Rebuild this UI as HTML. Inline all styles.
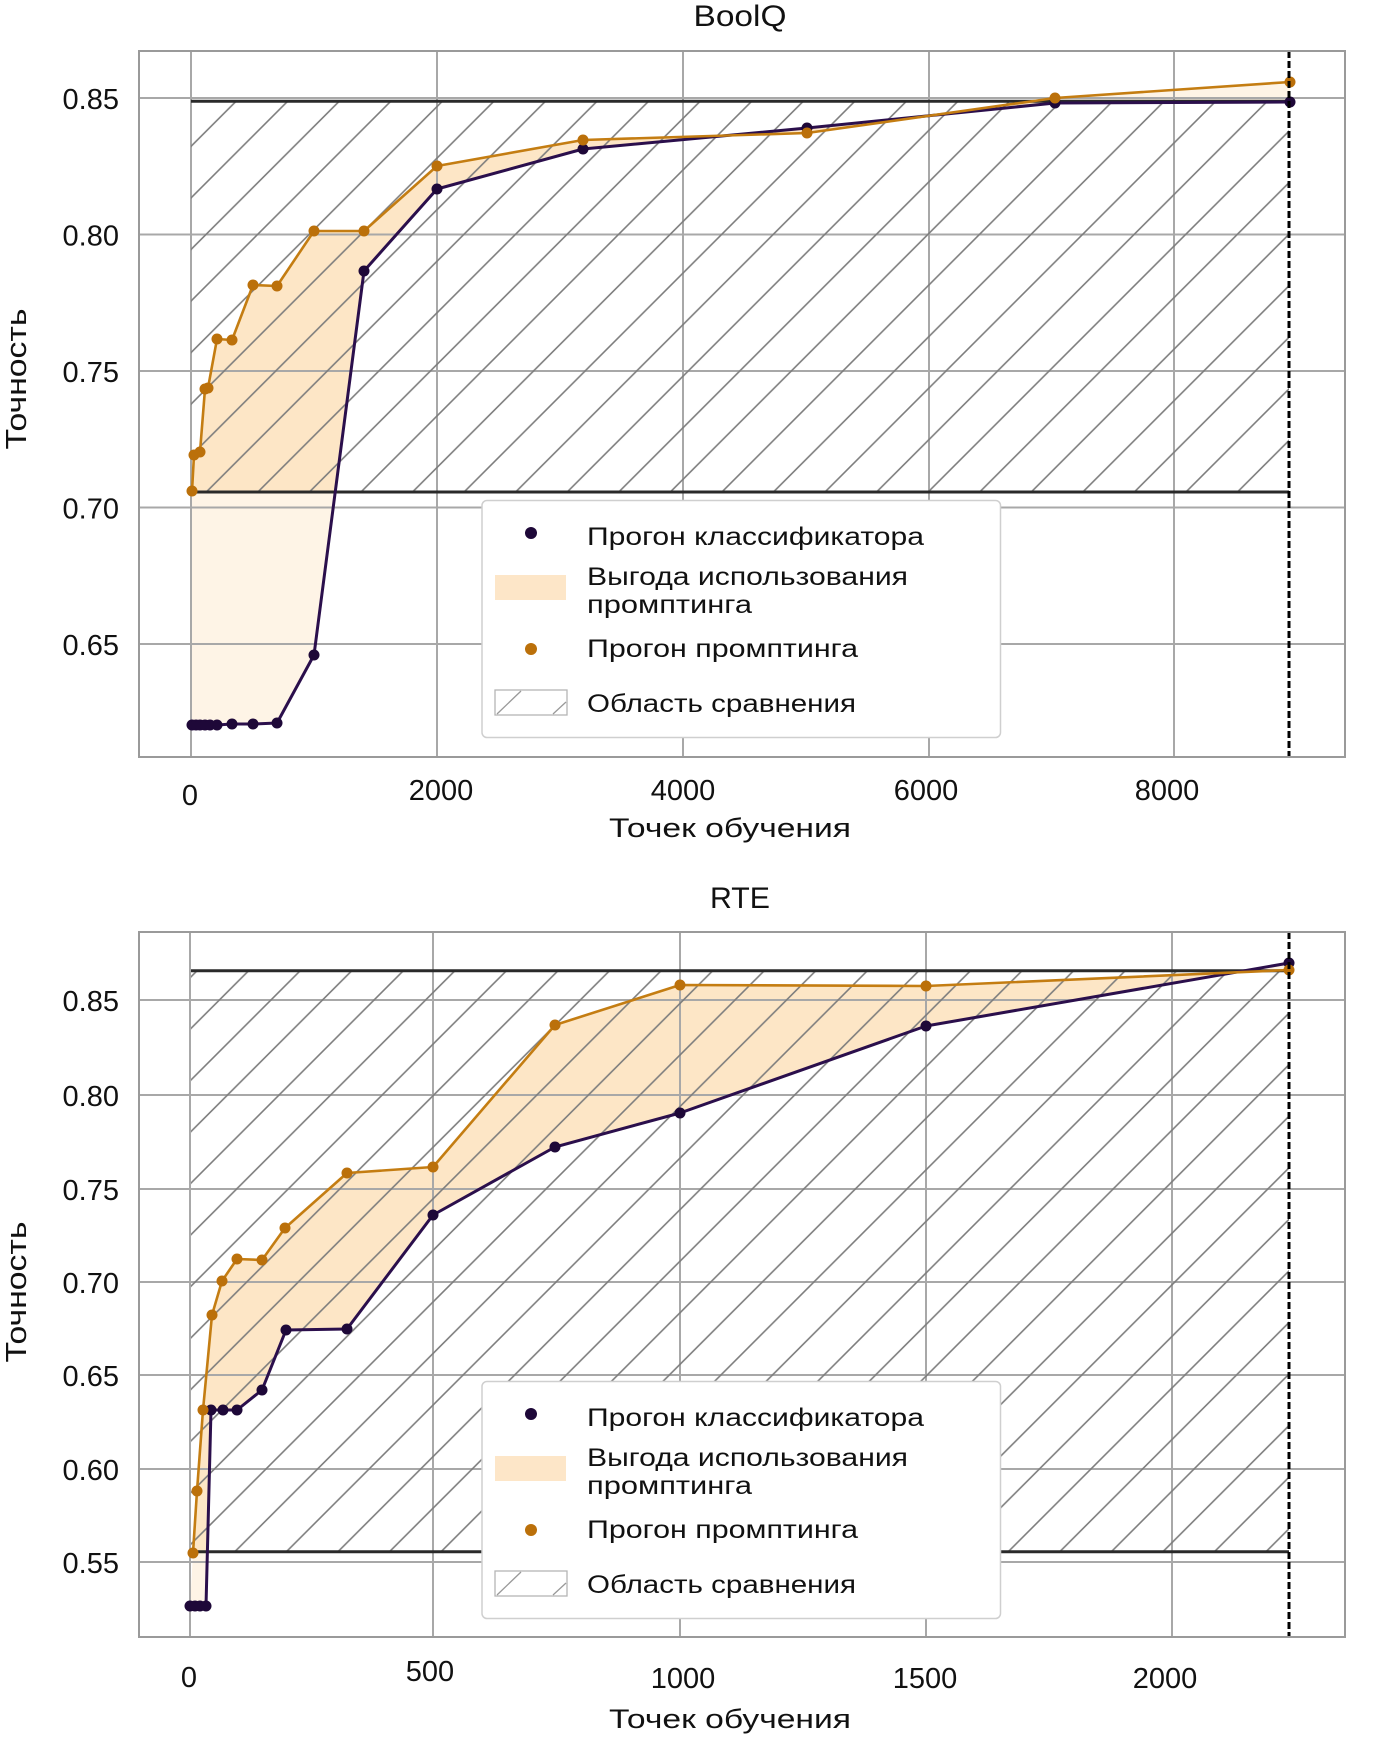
<!DOCTYPE html>
<html><head><meta charset="utf-8"><style>
html,body{margin:0;padding:0;background:#fff;}
svg{display:block;}
text{font-family:"Liberation Sans","DejaVu Sans",sans-serif;fill:#111;}
</style></head><body>
<svg width="1373" height="1741" viewBox="0 0 1373 1741" xmlns="http://www.w3.org/2000/svg">
<defs>
<pattern id="hTop" patternUnits="userSpaceOnUse" width="51.56" height="51.56" patternTransform="translate(28,0)">
<path d="M-3,3 L3,-3 M-3,54.56 L54.56,-3 M48.56,54.56 L54.56,48.56" stroke="#7d7d7d" stroke-width="1.6" fill="none"/>
</pattern>
<pattern id="hBot" patternUnits="userSpaceOnUse" width="51.56" height="51.56" patternTransform="translate(33.5,0)">
<path d="M-3,3 L3,-3 M-3,54.56 L54.56,-3 M48.56,54.56 L54.56,48.56" stroke="#7d7d7d" stroke-width="1.6" fill="none"/>
</pattern>
<clipPath id="cTop"><rect x="191" y="101.3" width="1098" height="390.7"/></clipPath>
<clipPath id="cBot"><rect x="191" y="970.7" width="1098" height="581"/></clipPath>
</defs>
<rect width="1373" height="1741" fill="#fff"/>

<!-- ============ TOP CHART (BoolQ) ============ -->
<text x="740" y="26" font-size="30" text-anchor="middle" textLength="93" lengthAdjust="spacingAndGlyphs">BoolQ</text>

<polygon fill="#fef4e6" points="192,491 194,455 200,452 205,389 208,388 217,339 232,340 253,285 277,286 314,231 364,231 437,166 583,140 807,133 1055,98 1290,82 1290,102 1055,103 807,128 583,149 437,189 364,271 314,655 277,723 253,724 232,724 217,725 210,725 205,725 200,725 196,725 192,725"/>
<polygon clip-path="url(#cTop)" fill="#fde6c6" points="192,491 194,455 200,452 205,389 208,388 217,339 232,340 253,285 277,286 314,231 364,231 437,166 583,140 807,133 1055,98 1290,82 1290,102 1055,103 807,128 583,149 437,189 364,271 314,655 277,723 253,724 232,724 217,725 210,725 205,725 200,725 196,725 192,725"/>

<g stroke="#a8a8a8" stroke-width="2">
<line x1="139" y1="98" x2="1345" y2="98"/>
<line x1="139" y1="234.5" x2="1345" y2="234.5"/>
<line x1="139" y1="371" x2="1345" y2="371"/>
<line x1="139" y1="507.5" x2="1345" y2="507.5"/>
<line x1="139" y1="644" x2="1345" y2="644"/>
<line x1="191" y1="51" x2="191" y2="757"/>
<line x1="437" y1="51" x2="437" y2="757"/>
<line x1="683" y1="51" x2="683" y2="757"/>
<line x1="929" y1="51" x2="929" y2="757"/>
<line x1="1174" y1="51" x2="1174" y2="757"/>
</g>

<rect x="191" y="101.3" width="1098" height="390.7" fill="url(#hTop)"/>
<line x1="191" y1="101.3" x2="1289" y2="101.3" stroke="#2a2a2a" stroke-width="3"/>
<line x1="191" y1="492" x2="1289" y2="492" stroke="#2a2a2a" stroke-width="3"/>

<polyline fill="none" stroke="#2b0f4c" stroke-width="3" stroke-linejoin="round" points="192,725 196,725 200,725 205,725 210,725 217,725 232,724 253,724 277,723 314,655 364,271 437,189 583,149 807,128 1055,103 1290,102"/>
<g fill="#1e0838">
<circle cx="192" cy="725" r="5.5"/><circle cx="196" cy="725" r="5.5"/><circle cx="200" cy="725" r="5.5"/><circle cx="205" cy="725" r="5.5"/><circle cx="210" cy="725" r="5.5"/><circle cx="217" cy="725" r="5.5"/><circle cx="232" cy="724" r="5.5"/><circle cx="253" cy="724" r="5.5"/><circle cx="277" cy="723" r="5.5"/><circle cx="314" cy="655" r="5.5"/><circle cx="364" cy="271" r="5.5"/><circle cx="437" cy="189" r="5.5"/><circle cx="583" cy="149" r="5.5"/><circle cx="807" cy="128" r="5.5"/><circle cx="1055" cy="103" r="5.5"/><circle cx="1290" cy="102" r="5.5"/>
</g>
<polyline fill="none" stroke="#c47d12" stroke-width="2.6" stroke-linejoin="round" points="192,491 194,455 200,452 205,389 208,388 217,339 232,340 253,285 277,286 314,231 364,231 437,166 583,140 807,133 1055,98 1290,82"/>
<g fill="#bb700a">
<circle cx="192" cy="491" r="5.5"/><circle cx="194" cy="455" r="5.5"/><circle cx="200" cy="452" r="5.5"/><circle cx="205" cy="389" r="5.5"/><circle cx="208" cy="388" r="5.5"/><circle cx="217" cy="339" r="5.5"/><circle cx="232" cy="340" r="5.5"/><circle cx="253" cy="285" r="5.5"/><circle cx="277" cy="286" r="5.5"/><circle cx="314" cy="231" r="5.5"/><circle cx="364" cy="231" r="5.5"/><circle cx="437" cy="166" r="5.5"/><circle cx="583" cy="140" r="5.5"/><circle cx="807" cy="133" r="5.5"/><circle cx="1055" cy="98" r="5.5"/><circle cx="1290" cy="82" r="5.5"/>
</g>

<line x1="1289" y1="51" x2="1289" y2="757" stroke="#000" stroke-width="3" stroke-dasharray="7 3"/>
<rect x="139" y="51" width="1206" height="706" fill="none" stroke="#9a9a9a" stroke-width="2"/>

<g font-size="29" text-anchor="end">
<text x="119" y="109">0.85</text>
<text x="119" y="245.5">0.80</text>
<text x="119" y="382">0.75</text>
<text x="119" y="518.5">0.70</text>
<text x="119" y="655">0.65</text>
</g>
<g font-size="29" text-anchor="middle">
<text x="190" y="805">0</text>
<text x="441" y="800">2000</text>
<text x="683" y="800">4000</text>
<text x="926" y="800">6000</text>
<text x="1167" y="800">8000</text>
</g>
<text x="730" y="837" font-size="27" text-anchor="middle" textLength="242" lengthAdjust="spacingAndGlyphs">Точек обучения</text>
<text transform="translate(26,379) rotate(-90)" font-size="29" text-anchor="middle" textLength="141" lengthAdjust="spacingAndGlyphs">Точность</text>

<rect x="482" y="500.5" width="518.5" height="237" rx="5" fill="#fff" stroke="#cfcfcf" stroke-width="1.5"/>
<circle cx="531" cy="533" r="6" fill="#1e0838"/>
<text x="587" y="545" font-size="25" textLength="337" lengthAdjust="spacingAndGlyphs">Прогон классификатора</text>
<rect x="495" y="575" width="71" height="25" fill="#fde6c8"/>
<text x="587" y="585" font-size="25" textLength="321" lengthAdjust="spacingAndGlyphs">Выгода использования</text>
<text x="587" y="613" font-size="25" textLength="165" lengthAdjust="spacingAndGlyphs">промптинга</text>
<circle cx="531" cy="649" r="6" fill="#bb700a"/>
<text x="587" y="657" font-size="25" textLength="271" lengthAdjust="spacingAndGlyphs">Прогон промптинга</text>
<rect x="495" y="690" width="72" height="25" fill="#fff" stroke="#b5b5b5" stroke-width="1.3"/>
<line x1="497" y1="714" x2="521" y2="691" stroke="#999" stroke-width="1.3"/>
<line x1="553" y1="714" x2="566" y2="702" stroke="#999" stroke-width="1.3"/>
<text x="587" y="712" font-size="25" textLength="269" lengthAdjust="spacingAndGlyphs">Область сравнения</text>

<!-- ============ BOTTOM CHART (RTE) ============ -->
<text x="740" y="908" font-size="30" text-anchor="middle" textLength="60" lengthAdjust="spacingAndGlyphs">RTE</text>

<polygon fill="#fef4e6" points="193,1553 197,1491 203,1410 212,1315 222,1281 237,1259 262,1260 285,1228 347,1173 433,1167 555,1025 680,985 926,986 1289,970 1289,963 926,1026 680,1113 555,1147 433,1215 347,1329 286,1330 262,1390 237,1410 223,1410 211,1410 206,1606 200,1606 195,1606 190,1606"/>
<polygon clip-path="url(#cBot)" fill="#fde6c6" points="193,1553 197,1491 203,1410 212,1315 222,1281 237,1259 262,1260 285,1228 347,1173 433,1167 555,1025 680,985 926,986 1289,970 1289,963 926,1026 680,1113 555,1147 433,1215 347,1329 286,1330 262,1390 237,1410 223,1410 211,1410 206,1606 200,1606 195,1606 190,1606"/>

<g stroke="#a8a8a8" stroke-width="2">
<line x1="139" y1="1000" x2="1345" y2="1000"/>
<line x1="139" y1="1095" x2="1345" y2="1095"/>
<line x1="139" y1="1189" x2="1345" y2="1189"/>
<line x1="139" y1="1282" x2="1345" y2="1282"/>
<line x1="139" y1="1375" x2="1345" y2="1375"/>
<line x1="139" y1="1469" x2="1345" y2="1469"/>
<line x1="139" y1="1562" x2="1345" y2="1562"/>
<line x1="190" y1="932" x2="190" y2="1637"/>
<line x1="433" y1="932" x2="433" y2="1637"/>
<line x1="680" y1="932" x2="680" y2="1637"/>
<line x1="926" y1="932" x2="926" y2="1637"/>
<line x1="1172" y1="932" x2="1172" y2="1637"/>
</g>

<rect x="191" y="970.7" width="1098" height="581" fill="url(#hBot)"/>
<line x1="191" y1="970.7" x2="1289" y2="970.7" stroke="#2a2a2a" stroke-width="3"/>
<line x1="191" y1="1551.7" x2="1289" y2="1551.7" stroke="#2a2a2a" stroke-width="3"/>

<polyline fill="none" stroke="#2b0f4c" stroke-width="3" stroke-linejoin="round" points="190,1606 195,1606 200,1606 206,1606 211,1410 223,1410 237,1410 262,1390 286,1330 347,1329 433,1215 555,1147 680,1113 926,1026 1289,963"/>
<g fill="#1e0838">
<circle cx="190" cy="1606" r="5.5"/><circle cx="195" cy="1606" r="5.5"/><circle cx="200" cy="1606" r="5.5"/><circle cx="206" cy="1606" r="5.5"/><circle cx="211" cy="1410" r="5.5"/><circle cx="223" cy="1410" r="5.5"/><circle cx="237" cy="1410" r="5.5"/><circle cx="262" cy="1390" r="5.5"/><circle cx="286" cy="1330" r="5.5"/><circle cx="347" cy="1329" r="5.5"/><circle cx="433" cy="1215" r="5.5"/><circle cx="555" cy="1147" r="5.5"/><circle cx="680" cy="1113" r="5.5"/><circle cx="926" cy="1026" r="5.5"/><circle cx="1289" cy="963" r="5.5"/>
</g>
<polyline fill="none" stroke="#c47d12" stroke-width="2.6" stroke-linejoin="round" points="193,1553 197,1491 203,1410 212,1315 222,1281 237,1259 262,1260 285,1228 347,1173 433,1167 555,1025 680,985 926,986 1289,970"/>
<g fill="#bb700a">
<circle cx="193" cy="1553" r="5.5"/><circle cx="197" cy="1491" r="5.5"/><circle cx="203" cy="1410" r="5.5"/><circle cx="212" cy="1315" r="5.5"/><circle cx="222" cy="1281" r="5.5"/><circle cx="237" cy="1259" r="5.5"/><circle cx="262" cy="1260" r="5.5"/><circle cx="285" cy="1228" r="5.5"/><circle cx="347" cy="1173" r="5.5"/><circle cx="433" cy="1167" r="5.5"/><circle cx="555" cy="1025" r="5.5"/><circle cx="680" cy="985" r="5.5"/><circle cx="926" cy="986" r="5.5"/><circle cx="1289" cy="970" r="5.5"/>
</g>

<line x1="1289" y1="932" x2="1289" y2="1637" stroke="#000" stroke-width="3" stroke-dasharray="7 3"/>
<rect x="139" y="932" width="1206" height="705" fill="none" stroke="#9a9a9a" stroke-width="2"/>

<g font-size="29" text-anchor="end">
<text x="119" y="1011">0.85</text>
<text x="119" y="1106">0.80</text>
<text x="119" y="1200">0.75</text>
<text x="119" y="1293">0.70</text>
<text x="119" y="1386">0.65</text>
<text x="119" y="1480">0.60</text>
<text x="119" y="1573">0.55</text>
</g>
<g font-size="29" text-anchor="middle">
<text x="189" y="1687">0</text>
<text x="430" y="1681">500</text>
<text x="683" y="1688">1000</text>
<text x="925" y="1688">1500</text>
<text x="1165" y="1688">2000</text>
</g>
<text x="730" y="1728" font-size="27" text-anchor="middle" textLength="242" lengthAdjust="spacingAndGlyphs">Точек обучения</text>
<text transform="translate(26,1292) rotate(-90)" font-size="29" text-anchor="middle" textLength="141" lengthAdjust="spacingAndGlyphs">Точность</text>

<rect x="482" y="1381.5" width="518.5" height="237" rx="5" fill="#fff" stroke="#cfcfcf" stroke-width="1.5"/>
<circle cx="531" cy="1414" r="6" fill="#1e0838"/>
<text x="587" y="1426" font-size="25" textLength="337" lengthAdjust="spacingAndGlyphs">Прогон классификатора</text>
<rect x="495" y="1456" width="71" height="25" fill="#fde6c8"/>
<text x="587" y="1466" font-size="25" textLength="321" lengthAdjust="spacingAndGlyphs">Выгода использования</text>
<text x="587" y="1494" font-size="25" textLength="165" lengthAdjust="spacingAndGlyphs">промптинга</text>
<circle cx="531" cy="1530" r="6" fill="#bb700a"/>
<text x="587" y="1538" font-size="25" textLength="271" lengthAdjust="spacingAndGlyphs">Прогон промптинга</text>
<rect x="495" y="1571" width="72" height="25" fill="#fff" stroke="#b5b5b5" stroke-width="1.3"/>
<line x1="497" y1="1595" x2="521" y2="1572" stroke="#999" stroke-width="1.3"/>
<line x1="553" y1="1595" x2="566" y2="1583" stroke="#999" stroke-width="1.3"/>
<text x="587" y="1593" font-size="25" textLength="269" lengthAdjust="spacingAndGlyphs">Область сравнения</text>
</svg>
</body></html>
